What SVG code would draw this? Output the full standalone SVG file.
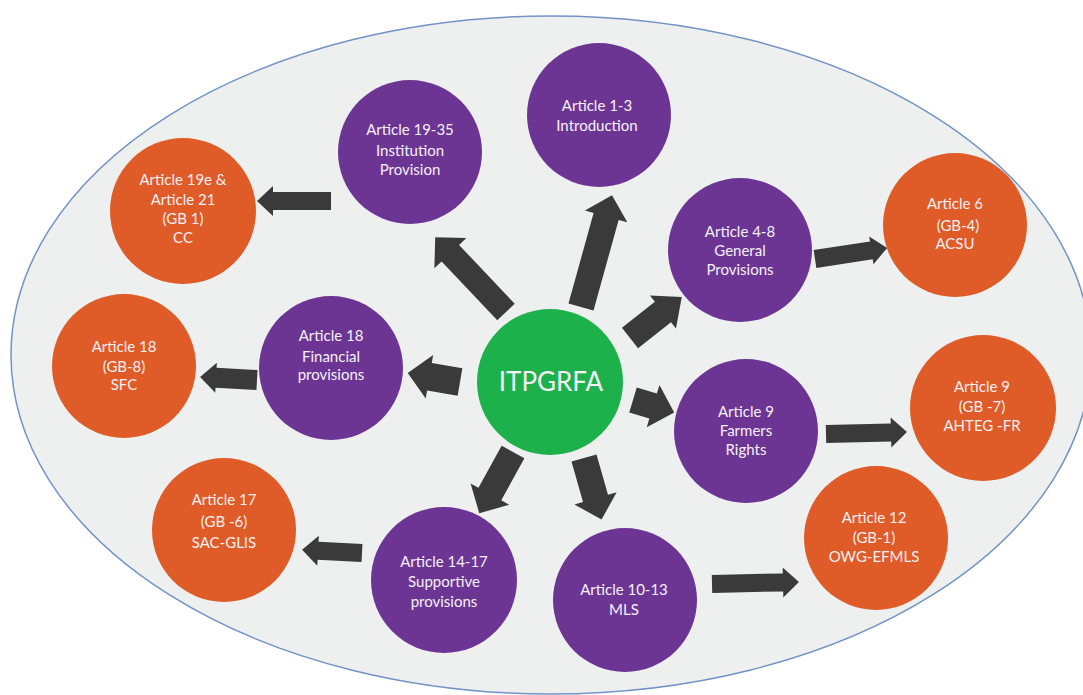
<svg xmlns="http://www.w3.org/2000/svg" width="1083" height="695" viewBox="0 0 1083 695">
<style>
.bg{fill:#eef0f0;stroke:#7393c6;stroke-width:1.5}
.p{fill:#6c3594}
.o{fill:#df5b27}
.g{fill:#1db14b}
.t{font-family:"Lato","Liberation Sans",sans-serif;font-size:15px;fill:#f6f1f6;text-anchor:middle}
.big{font-size:26px}
.a{fill:#3a3a3a}
</style>
<rect width="1083" height="695" fill="#ffffff"/>
<ellipse class="bg" cx="551" cy="355" rx="540" ry="339"/>
<g id="connectors">
<path class="a" transform="translate(331,201) rotate(180)" d="M0,-9 H58 V-15 L74,0 L58,15 V9 H0 Z"/>
<path class="a" transform="translate(506,312) rotate(-133.4)" d="M0,-12 H81 V-22 L103,0 L81,22 V12 H0 Z"/>
<path class="a" transform="translate(581,307) rotate(-74.5)" d="M0,-13 H94 V-22 L116,0 L94,22 V13 H0 Z"/>
<path class="a" transform="translate(630,338) rotate(-38.3)" d="M0,-13 H42 V-21 L66,0 L42,21 V13 H0 Z"/>
<path class="a" transform="translate(815,259) rotate(-8.7)" d="M0,-9 H57 V-14 L73,0 L57,14 V9 H0 Z"/>
<path class="a" transform="translate(460,382) rotate(189.7)" d="M0,-14 H31 V-22 L53,0 L31,22 V14 H0 Z"/>
<path class="a" transform="translate(257,380) rotate(183)" d="M0,-10 H41 V-15 L57,0 L41,15 V10 H0 Z"/>
<path class="a" transform="translate(513,452) rotate(118.8)" d="M0,-13 H48 V-22 L70,0 L48,22 V13 H0 Z"/>
<path class="a" transform="translate(362,553) rotate(183)" d="M0,-9 H44 V-15 L60,0 L44,15 V9 H0 Z"/>
<path class="a" transform="translate(584,458) rotate(74.1)" d="M0,-13 H42 V-22 L64,0 L42,22 V13 H0 Z"/>
<path class="a" transform="translate(633,400) rotate(16.8)" d="M0,-13 H21 V-22 L43,0 L21,22 V13 H0 Z"/>
<path class="a" transform="translate(826,434) rotate(-1.4)" d="M0,-9 H65 V-15 L81,0 L65,15 V9 H0 Z"/>
<path class="a" transform="translate(712,584) rotate(-1.3)" d="M0,-9 H71 V-15 L87,0 L71,15 V9 H0 Z"/>
</g>
<g id="center">
<circle class="g" cx="550" cy="382" r="73"/>
<text class="t big" x="551" y="391">ITPGRFA</text>
</g>
<g id="art1-3">
<circle class="p" cx="599" cy="115" r="72"/>
<text class="t" x="597" y="111">Article 1-3</text>
<text class="t" x="597" y="131">Introduction</text>
</g>
<g id="art19-35">
<circle class="p" cx="410" cy="152" r="72"/>
<text class="t" x="410" y="135">Article 19-35</text>
<text class="t" x="410" y="156">Institution</text>
<text class="t" x="410" y="175">Provision</text>
</g>
<g id="art19e">
<circle class="o" cx="183" cy="211" r="73"/>
<text class="t" x="183" y="185">Article 19e &amp;</text>
<text class="t" x="183" y="205">Article 21</text>
<text class="t" x="183" y="224">(GB 1)</text>
<text class="t" x="183" y="243">CC</text>
</g>
<g id="art4-8">
<circle class="p" cx="740" cy="250" r="72"/>
<text class="t" x="740" y="237">Article 4-8</text>
<text class="t" x="740" y="256">General</text>
<text class="t" x="740" y="275">Provisions</text>
</g>
<g id="art6">
<circle class="o" cx="955" cy="225" r="72"/>
<text class="t" x="955" y="209">Article 6</text>
<text class="t" x="958" y="231">(GB-4)</text>
<text class="t" x="955" y="249">ACSU</text>
</g>
<g id="art18fin">
<circle class="p" cx="331" cy="368" r="72"/>
<text class="t" x="331" y="341">Article 18</text>
<text class="t" x="331" y="362">Financial</text>
<text class="t" x="331" y="380">provisions</text>
</g>
<g id="art18sfc">
<circle class="o" cx="124" cy="366" r="72"/>
<text class="t" x="124" y="352">Article 18</text>
<text class="t" x="124" y="372">(GB-8)</text>
<text class="t" x="124" y="390">SFC</text>
</g>
<g id="art9fr">
<circle class="p" cx="746" cy="431" r="72"/>
<text class="t" x="746" y="417">Article 9</text>
<text class="t" x="746" y="436">Farmers</text>
<text class="t" x="746" y="455">Rights</text>
</g>
<g id="art9ahteg">
<circle class="o" cx="983" cy="408" r="73"/>
<text class="t" x="982" y="392">Article 9</text>
<text class="t" x="982" y="412">(GB -7)</text>
<text class="t" x="982" y="431">AHTEG -FR</text>
</g>
<g id="art17">
<circle class="o" cx="224" cy="530" r="72"/>
<text class="t" x="224" y="505">Article 17</text>
<text class="t" x="224" y="527">(GB -6)</text>
<text class="t" x="224" y="548">SAC-GLIS</text>
</g>
<g id="art14-17">
<circle class="p" cx="444" cy="580" r="73"/>
<text class="t" x="444" y="567">Article 14-17</text>
<text class="t" x="444" y="587">Supportive</text>
<text class="t" x="444" y="607">provisions</text>
</g>
<g id="art10-13">
<circle class="p" cx="625" cy="600" r="72"/>
<text class="t" x="624" y="595">Article 10-13</text>
<text class="t" x="624" y="615">MLS</text>
</g>
<g id="art12">
<circle class="o" cx="876" cy="538" r="72"/>
<text class="t" x="874" y="523">Article 12</text>
<text class="t" x="874" y="543">(GB-1)</text>
<text class="t" x="874" y="562">OWG-EFMLS</text>
</g>
</svg>
